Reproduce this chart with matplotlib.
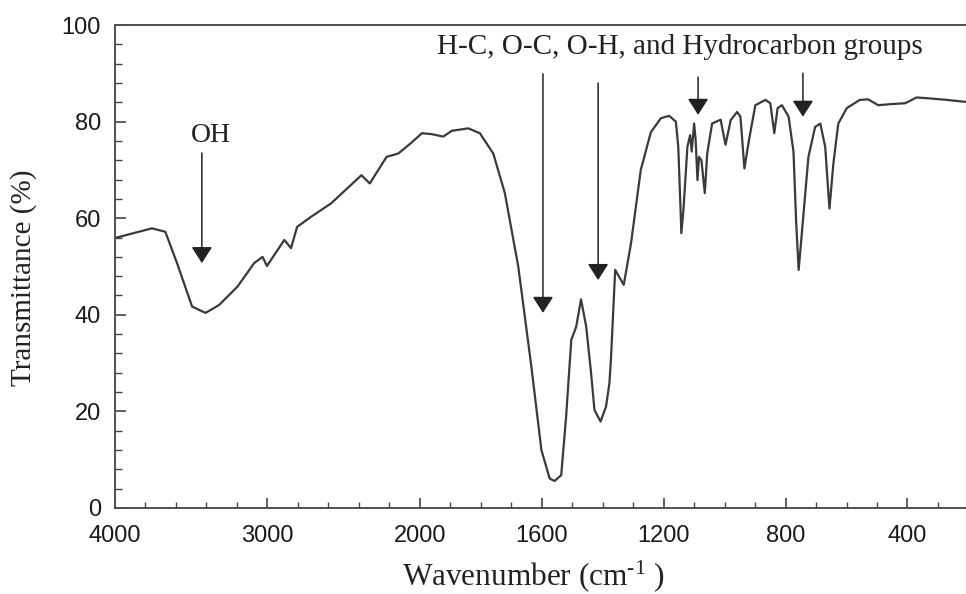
import numpy as np
import matplotlib
matplotlib.use("Agg")
import matplotlib.pyplot as plt
from matplotlib.ticker import FixedLocator

plt.rcParams["mathtext.fontset"] = "custom"
plt.rcParams["mathtext.rm"] = "Liberation Serif"
plt.rcParams["mathtext.it"] = "Liberation Serif:italic"
plt.rcParams["mathtext.bf"] = "Liberation Serif:bold"

# ---- data ----
wavenumber = [4000, 3758, 3670, 3593, 3494, 3406, 3318, 3197, 3087, 3032, 3003,
              2889, 2845, 2805, 2713, 2581, 2383, 2328, 2218, 2141, 2060, 1993,
              1961, 1923, 1895, 1841, 1803, 1759, 1721, 1677, 1634, 1601, 1574,
              1558, 1536, 1520, 1503, 1487, 1471, 1454, 1438, 1427, 1407, 1389,
              1378, 1373, 1359, 1340, 1331, 1307, 1275, 1242, 1209, 1182, 1160,
              1152, 1144, 1142, 1135, 1122, 1113, 1108, 1100, 1095, 1089, 1084,
              1076, 1065, 1057, 1041, 1013, 997, 980, 959, 948, 935, 920, 899,
              866, 850, 837, 826, 812, 790, 774, 765, 757, 741, 725, 703, 686,
              670, 656, 643, 627, 599, 556, 529, 496, 458, 408, 398, 370, 327,
              272, 212]
transmittance = [55.9, 57.9, 57.2, 50.7, 41.7, 40.4, 42.0, 45.8, 50.7, 52.0, 50.1,
                 55.5, 53.8, 58.2, 60.3, 63.1, 68.9, 67.2, 72.7, 73.4, 75.5, 77.6,
                 77.4, 76.9, 78.1, 78.6, 77.6, 73.4, 65.2, 50.0, 29.3, 12.0, 6.1,
                 5.6, 6.8, 18.9, 34.8, 37.5, 43.2, 37.5, 27.9, 20.3, 17.9, 21.0,
                 25.8, 30.6, 49.3, 47.2, 46.2, 54.8, 70.0, 77.8, 80.7, 81.2, 80.0,
                 74.8, 61.0, 56.9, 61.7, 74.8, 77.2, 73.8, 79.6, 76.2, 67.9, 72.7,
                 72.0, 65.2, 73.4, 79.6, 80.4, 75.2, 80.3, 82.0, 81.0, 70.3, 76.2, 83.4,
                 84.5, 83.8, 77.6, 82.8, 83.4, 81.0, 73.8, 58.9, 49.3, 61.0, 72.7, 78.9, 79.6,
                 74.8, 62.0, 71.4, 79.6, 82.8, 84.5, 84.6, 83.4, 83.6, 83.8, 84.1, 85.0, 84.8,
                 84.5, 84.1]

major_xticks = [4000, 3000, 2000, 1600, 1200, 800, 400]
minor_xticks = [3800, 3600, 3400, 3200, 2800, 2600, 2400, 2200,
                1900, 1800, 1700, 1500, 1400, 1300, 1100, 1000, 900,
                700, 600, 500, 300]
yticks = [0, 20, 40, 60, 80, 100]

# annotations: (label, x, y)
oh_label = ("OH", 3373, 77.2)
group_label = ("H-C, O-C, O-H, and Hydrocarbon groups", 1146, 95.4)
# arrows: (x, y_start, y_tip)
arrows = [(3430, 73.5, 50.7), (1596, 89.9, 40.4), (1415, 88.0, 47.2),
          (1087, 89.2, 81.4), (743, 90.0, 81.0)]


# piecewise wavenumber scale: half-compressed above 2000 cm-1
def fwd(x):
    x = np.asarray(x, dtype=float)
    return np.where(x >= 2000, 1000 + x / 2.0, x)


def inv(t):
    t = np.asarray(t, dtype=float)
    return np.where(t >= 2000, 2.0 * (t - 1000), t)


fig = plt.figure(figsize=(9.66, 5.94), dpi=100)
ax = fig.add_axes([115 / 966, 1 - 508 / 594, 1 - 115 / 966, (508 - 25) / 594])
ax.set_xscale("function", functions=(fwd, inv))

ax.plot(wavenumber, transmittance, color="#3a3a3a", lw=1.6, solid_joinstyle="round")
ax.set_xlim(4000, 208)
ax.set_ylim(0, 100)

ax.xaxis.set_major_locator(FixedLocator(major_xticks))
ax.xaxis.set_minor_locator(FixedLocator(minor_xticks))
ax.set_xticklabels([str(v) for v in major_xticks])
ax.yaxis.set_major_locator(FixedLocator(yticks))
ax.yaxis.set_minor_locator(FixedLocator([v for v in range(0, 101, 4) if v % 20 != 0]))

for s in ["left", "bottom", "top"]:
    ax.spines[s].set_color("#505050")
    ax.spines[s].set_linewidth(1.4)
ax.spines["right"].set_visible(False)

ax.tick_params(axis="both", which="both", direction="in", color="#444444")
ax.tick_params(axis="x", which="major", length=7, width=1.2, pad=12)
ax.tick_params(axis="x", which="minor", length=4, width=1.0)
ax.tick_params(axis="y", which="major", length=8, width=1.2, pad=10)
ax.tick_params(axis="y", which="minor", length=5, width=1.0)
for lab in ax.get_xticklabels() + ax.get_yticklabels():
    lab.set_fontfamily("Liberation Sans")
    lab.set_fontsize(17)
    lab.set_color("#1a1a1a")

serif = "Liberation Serif"
fig.text(24 / 966, 1 - 278 / 594, "Transmittance (%)", rotation=90,
         ha="center", va="center", family=serif, fontsize=21, color="#222222")
fig.text(533 / 966, 1 - 576 / 594, r"Wavenumber (cm$^{\text{-1}}$ )",
         ha="center", va="center", family=serif, fontsize=22.5, color="#222222")

ax.text(oh_label[1], oh_label[2], oh_label[0], ha="center", va="center",
        family=serif, fontsize=20, color="#222222")
ax.text(group_label[1], group_label[2], group_label[0], ha="center", va="center",
        family=serif, fontsize=21, color="#222222")

for x, y0, y1 in arrows:
    ax.annotate("", xy=(x, y1), xytext=(x, y0),
                arrowprops=dict(arrowstyle="-|>,head_length=0.5,head_width=0.32",
                                mutation_scale=20, color="#222222", lw=1.1,
                                shrinkA=0, shrinkB=0))

fig.savefig("out.png", dpi=100, facecolor="white")
